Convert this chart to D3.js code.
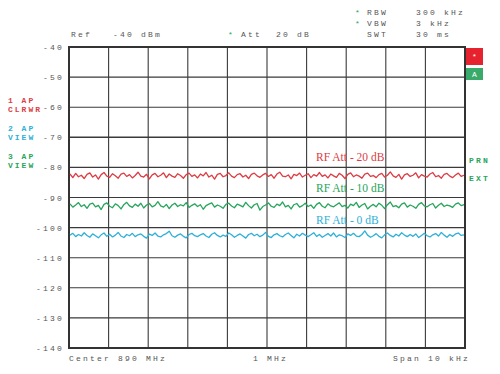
<!DOCTYPE html>
<html>
<head>
<meta charset="utf-8">
<script src="https://cdn.jsdelivr.net/npm/d3@7"></script>
<style>
	body { margin: 0; background: #fff; }
	svg { display: block; }
	.mono { font-family: "Liberation Mono", "DejaVu Sans Mono", monospace; font-size: 8px; letter-spacing: 2.2px; fill: #555; white-space: pre; }
</style>
</head>
<body>
<div id="chart"></div>
<script>
// y grid levels (dBm) and x divisions
const yTicks = [-40, -50, -60, -70, -80, -90, -100, -110, -120, -130, -140];
const xDivs = [0, 1, 2, 3, 4, 5, 6, 7, 8, 9, 10];

// trace values (dBm), left to right
const traceRed = [
	-82.2,-83.4,-82.0,-83.1,-82.6,-83.7,-82.3,-81.8,-83.2,-82.5,-83.9,-82.4,-81.7,-82.9,-83.3,-82.1,-82.8,-83.6,-82.2,-81.9,
	-83.0,-82.4,-83.5,-82.7,-81.6,-82.9,-83.2,-82.3,-83.8,-82.5,-82.0,-83.1,-82.6,-81.8,-83.4,-82.2,-82.9,-83.3,-82.1,-82.7,
	-83.6,-82.4,-81.9,-83.0,-82.5,-83.5,-82.2,-82.8,-81.7,-83.2,-82.6,-83.9,-82.3,-82.0,-83.1,-82.7,-81.8,-82.9,-83.4,-82.4,
	-82.1,-83.2,-82.6,-83.7,-82.3,-81.9,-82.8,-83.3,-82.5,-82.0,-83.0,-82.4,-83.6,-82.2,-81.6,-82.9,-83.1,-82.5,-83.8,-82.3,
	-82.7,-81.9,-83.2,-82.6,-82.1,-83.4,-82.4,-82.9,-81.7,-83.0,-82.5,-83.5,-82.2,-82.8,-83.3,-82.0,-82.6,-83.7,-82.3,-81.8,
	-83.1,-82.5,-82.9,-83.6,-82.2,-81.9,-83.0,-82.7,-83.4,-82.4,-82.0,-83.2,-82.6,-81.5,-82.8,-83.3,-82.3,-83.9,-82.5,-82.1,
	-83.0,-82.6,-81.8,-83.5,-82.4,-82.9,-83.2,-82.2,-81.7,-83.1,-82.7,-83.6,-82.3,-82.0,-82.9,-83.4,-82.5,-81.9,-83.0,-82.6
];
const traceGreen = [
	-92.1,-93.2,-92.5,-91.7,-93.0,-92.4,-93.6,-92.2,-91.9,-93.1,-92.6,-94.0,-92.3,-91.8,-92.9,-93.4,-92.1,-92.7,-93.8,-92.4,
	-91.6,-92.8,-93.3,-92.2,-92.9,-91.9,-93.5,-92.5,-92.0,-93.1,-92.6,-91.4,-92.8,-93.2,-92.3,-93.7,-92.5,-91.9,-93.0,-92.4,
	-92.8,-91.7,-93.3,-92.6,-92.1,-93.0,-92.4,-93.9,-92.7,-92.2,-91.8,-93.2,-92.5,-92.9,-93.6,-92.3,-91.9,-92.8,-93.4,-92.2,
	-92.6,-93.1,-91.6,-92.7,-93.5,-92.4,-92.0,-94.2,-93.0,-92.5,-91.8,-92.9,-93.3,-92.2,-92.7,-91.5,-93.1,-92.6,-93.8,-92.4,
	-92.0,-93.2,-92.7,-91.9,-93.0,-92.5,-93.6,-92.3,-91.7,-92.9,-93.4,-92.1,-92.8,-93.1,-92.4,-91.8,-93.0,-92.6,-93.5,-92.2,
	-92.7,-91.6,-93.3,-92.5,-92.0,-93.8,-92.9,-92.3,-93.1,-91.9,-92.6,-93.7,-92.4,-91.5,-93.0,-92.7,-93.4,-92.2,-91.8,-93.2,
	-92.5,-92.9,-93.6,-92.3,-91.7,-92.8,-93.1,-92.4,-92.0,-93.5,-92.6,-91.9,-93.0,-92.5,-92.8,-93.3,-92.2,-91.8,-92.7,-92.4
];
const traceBlue = [
	-102.5,-101.9,-103.0,-102.3,-102.8,-101.7,-102.6,-103.2,-102.1,-102.7,-103.4,-102.4,-101.8,-102.9,-102.2,-103.1,-102.5,-101.6,-102.8,-103.3,
	-102.3,-102.7,-101.9,-103.0,-102.4,-102.1,-102.9,-103.5,-102.2,-102.6,-101.8,-102.8,-103.1,-102.4,-102.0,-101.2,-102.7,-103.2,-102.5,-102.1,
	-102.9,-103.4,-102.3,-101.9,-102.7,-103.0,-102.4,-102.0,-102.8,-103.3,-102.2,-101.7,-102.6,-103.1,-102.5,-102.9,-101.8,-102.4,-103.2,-102.6,
	-102.1,-102.8,-103.5,-102.3,-101.9,-102.7,-102.2,-103.0,-102.5,-101.6,-102.9,-103.3,-102.4,-102.0,-102.7,-103.1,-102.3,-101.8,-102.6,-103.4,
	-102.2,-102.8,-101.9,-102.5,-103.0,-102.4,-101.7,-102.9,-102.3,-103.2,-102.6,-102.0,-102.8,-101.8,-103.1,-102.4,-102.7,-103.3,-102.1,-102.6,
	-101.9,-102.8,-103.0,-102.3,-101.1,-102.5,-103.2,-102.7,-102.0,-102.9,-103.4,-102.4,-101.8,-102.6,-103.1,-102.2,-102.8,-101.7,-102.5,-103.0,
	-102.3,-102.9,-102.1,-103.3,-102.6,-101.9,-102.7,-103.1,-102.4,-102.0,-102.8,-101.6,-102.5,-103.2,-102.3,-102.9,-102.1,-101.8,-102.6,-102.4
];

const traces = [
	{name: 'RF Att - 20 dB', values: traceRed, color: '#dc3d44', label: -77.8},
	{name: 'RF Att - 10 dB', values: traceGreen, color: '#27a55b', label: -88.1},
	{name: 'RF Att - 0 dB', values: traceBlue, color: '#2eb0d8', label: -98.7}
];

const sideLabels = [
	{lines: ['1 AP', 'CLRWR'], color: '#dc3d44'},
	{lines: ['2 AP', 'VIEW'], color: '#2eb0d8'},
	{lines: ['3 AP', 'VIEW'], color: '#27a55b'}
];

const W = 500, H = 374;
const plot = {x1: 69, x2: 465, y1: 47, y2: 348};

const svg = d3.select('#chart').append('svg')
	.attr('width', W)
	.attr('height', H);

const x = d3.scaleLinear().domain([0, 10]).range([plot.x1, plot.x2]);
const y = d3.scaleLinear().domain([-140, -40]).range([plot.y2, plot.y1]);

// grid
const gGrid = svg.append('g').attr('class', 'g_grid');
gGrid.selectAll('.h_line')
	.data(yTicks).enter()
	.append('line')
	.attr('class', 'h_line')
	.attr('x1', plot.x1).attr('x2', plot.x2)
	.attr('y1', d => y(d)).attr('y2', d => y(d))
	.attr('stroke', '#3a3a3a')
	.attr('stroke-width', d => d === -70 ? 1.6 : 1.1);
gGrid.selectAll('.v_line')
	.data(xDivs).enter()
	.append('line')
	.attr('class', 'v_line')
	.attr('x1', d => x(d)).attr('x2', d => x(d))
	.attr('y1', plot.y1).attr('y2', plot.y2)
	.attr('stroke', '#3a3a3a')
	.attr('stroke-width', 1.1);

// frame
gGrid.append('rect')
	.attr('x', plot.x1).attr('y', plot.y1)
	.attr('width', plot.x2 - plot.x1)
	.attr('height', plot.y2 - plot.y1)
	.attr('fill', 'none')
	.attr('stroke', '#333')
	.attr('stroke-width', 2);

// y tick labels
svg.selectAll('.y_lbl')
	.data(yTicks).enter()
	.append('text')
	.attr('class', 'mono y_lbl')
	.attr('x', 64)
	.attr('y', d => y(d) + 3)
	.attr('text-anchor', 'end')
	.text(d => d);

// traces
traces.forEach(tr => {
	const xs = d3.scaleLinear().domain([0, tr.values.length - 1]).range([plot.x1 + 1, plot.x2 - 1]);
	const line = d3.line()
		.x((d, i) => xs(i))
		.y(d => y(d));
	svg.append('path')
		.datum(tr.values)
		.attr('d', line)
		.attr('fill', 'none')
		.attr('stroke', tr.color)
		.attr('stroke-width', 1.3)
		.attr('stroke-linejoin', 'round');

	svg.append('text')
		.attr('x', 316)
		.attr('y', y(tr.label))
		.attr('font-family', '"Liberation Serif", serif')
		.attr('font-size', 11.5)
		.attr('fill', tr.color)
		.text(tr.name);
});

// side labels on the left
const gSide = svg.append('g');
sideLabels.forEach((s, i) => {
	s.lines.forEach((t, j) => {
		gSide.append('text')
			.attr('class', 'mono')
			.attr('x', 8)
			.attr('y', 103 + i * 28 + j * 9)
			.style('fill', s.color)
			.style('font-weight', 'bold')
			.style('letter-spacing', '2px')
			.text(t);
	});
});

// header
svg.append('text').attr('class', 'mono').attr('x', 71).attr('y', 37).text('Ref   -40 dBm');
svg.append('text').attr('class', 'mono').attr('x', 228).attr('y', 37).style('fill', '#27a55b').text('*');
svg.append('text').attr('class', 'mono').attr('x', 241).attr('y', 37).text('Att  20 dB');
svg.append('text').attr('class', 'mono').attr('x', 355).attr('y', 15).style('fill', '#27a55b').text('*');
svg.append('text').attr('class', 'mono').attr('x', 367).attr('y', 15).text('RBW');
svg.append('text').attr('class', 'mono').attr('x', 416).attr('y', 15).text('300 kHz');
svg.append('text').attr('class', 'mono').attr('x', 355).attr('y', 26).style('fill', '#27a55b').text('*');
svg.append('text').attr('class', 'mono').attr('x', 367).attr('y', 26).text('VBW');
svg.append('text').attr('class', 'mono').attr('x', 416).attr('y', 26).text('3 kHz');
svg.append('text').attr('class', 'mono').attr('x', 367).attr('y', 37).text('SWT');
svg.append('text').attr('class', 'mono').attr('x', 416).attr('y', 37).text('30 ms');

// footer
svg.append('text').attr('class', 'mono').attr('x', 69).attr('y', 361).text('Center 890 MHz');
svg.append('text').attr('class', 'mono').attr('x', 253).attr('y', 361).text('1 MHz');
svg.append('text').attr('class', 'mono').attr('x', 393).attr('y', 361).text('Span 10 kHz');

// right side markers
svg.append('rect').attr('x', 466).attr('y', 48).attr('width', 17).attr('height', 17).attr('fill', '#e5222e');
svg.append('text').attr('class', 'mono').attr('x', 474.5).attr('y', 59).attr('text-anchor', 'middle')
	.style('fill', '#fff').style('letter-spacing', '0px').text('*');
svg.append('rect').attr('x', 466).attr('y', 68).attr('width', 17).attr('height', 12).attr('fill', '#3aaa6a');
svg.append('text').attr('class', 'mono').attr('x', 474.5).attr('y', 77).attr('text-anchor', 'middle')
	.style('fill', '#fff').style('letter-spacing', '0px').text('A');
svg.append('text').attr('class', 'mono').attr('x', 469).attr('y', 163)
	.style('fill', '#27a55b').style('font-weight', 'bold').text('PRN');
svg.append('text').attr('class', 'mono').attr('x', 469).attr('y', 181)
	.style('fill', '#27a55b').style('font-weight', 'bold').text('EXT');
</script>
</body>
</html>
